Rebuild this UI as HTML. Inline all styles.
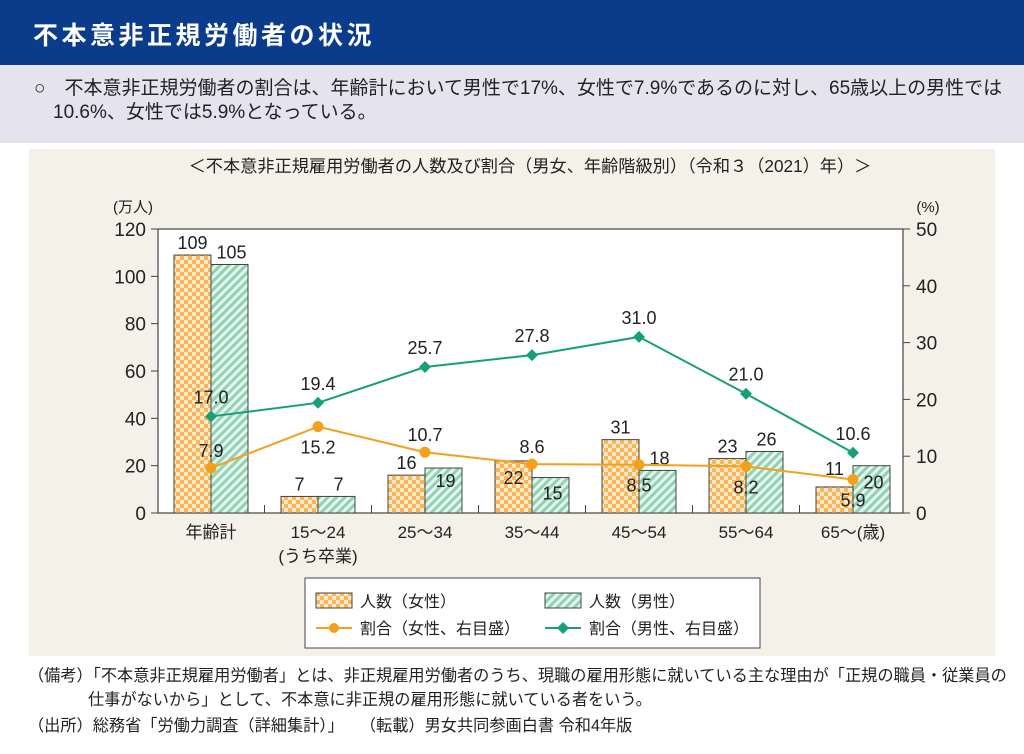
<!DOCTYPE html>
<html><head><meta charset="utf-8">
<style>
body{margin:0;width:1024px;height:754px;overflow:hidden;background:#fff;font-family:"Liberation Sans","Noto Sans CJK JP",sans-serif;position:relative}
.hdr{position:absolute;left:0;top:0;width:1024px;height:65px;background:#0b3c8c;color:#fff;font-size:25px;font-weight:bold;letter-spacing:3.5px}
.hdr span{position:absolute;left:33px;top:16px}
.sum{position:absolute;left:0;top:65px;width:1024px;height:78px;background:#e5e3ee;font-size:19px;color:#222;line-height:23px;white-space:nowrap}
.panel{position:absolute;left:29px;top:149px;width:966px;height:507px;background:#f4f1e8}
.note{position:absolute;left:28px;font-size:16.2px;color:#222;white-space:nowrap}
</style></head><body>
<div class="hdr"><span>不本意非正規労働者の状況</span></div>
<div class="sum">
<div style="position:absolute;left:34px;top:12px">○　不本意非正規労働者の割合は、年齢計において男性で17%、女性で7.9%であるのに対し、65歳以上の男性では</div>
<div style="position:absolute;left:53px;top:36px">10.6%、女性では5.9%となっている。</div>
</div>
<div class="panel"></div>
<svg id="c" width="1024" height="754" style="position:absolute;left:0;top:0">
<defs>
<pattern id="chk" width="8" height="8" patternUnits="userSpaceOnUse"><rect width="8" height="8" fill="#f7b65a"/><rect width="4" height="4" fill="#fde9c8"/><rect x="4" y="4" width="4" height="4" fill="#fde9c8"/></pattern>
<pattern id="dia" width="6" height="6" patternUnits="userSpaceOnUse" patternTransform="rotate(45)"><rect width="6" height="6" fill="#e6f5ee"/><rect width="3" height="6" fill="#8fd2b4"/></pattern>
</defs>
</svg>
<div class="note" style="top:662px">（備考）「不本意非正規雇用労働者」とは、非正規雇用労働者のうち、現職の雇用形態に就いている主な理由が「正規の職員・従業員の</div>
<div class="note" style="top:686px;left:88px">仕事がないから」として、不本意に非正規の雇用形態に就いている者をいう。</div>
<div class="note" style="top:712px">（出所）総務省「労働力調査（詳細集計）」　　（転載）男女共同参画白書 令和4年版</div>
<script>
const categories=["年齢計","15～24","25～34","35～44","45～54","55～64","65～"];
const femaleCount=[109,7,16,22,31,23,11];
const maleCount=[105,7,19,15,18,26,20];
const femaleRate=[7.9,15.2,10.7,8.6,8.5,8.2,5.9];
const maleRate=[17.0,19.4,25.7,27.8,31.0,21.0,10.6];
const leftTicks=[0,20,40,60,80,100,120];
const rightTicks=[0,10,20,30,40,50];
const svg=document.getElementById('c');
const NS='http://www.w3.org/2000/svg';
const X0=158,X1=903,Y0=513,Y1=229;
const yL=v=>Y0-(v/120)*(Y0-Y1);
const yR=v=>Y0-(v/50)*(Y0-Y1);
const step=107;
const xc=i=>211+i*step;
function mk(t,a,p){const e=document.createElementNS(NS,t);for(const k in a)e.setAttribute(k,a[k]);(p||svg).appendChild(e);return e;}
function tx(x,y,s,size,anchor,fill){const e=mk('text',{x:x,y:y,'font-size':size||16,'text-anchor':anchor||'middle',fill:fill||'#222','font-family':'"Liberation Sans","Noto Sans CJK JP",sans-serif'});e.textContent=s;return e;}
let t=tx(530,172,'＜不本意非正規雇用労働者の人数及び割合（男女、年齢階級別）（令和３（2021）年）＞',17.2);


let pa=mk('rect',{x:X0,y:Y1,width:X1-X0,height:Y0-Y1,fill:'#fff',stroke:'#444','stroke-width':1.2});


t=tx(133,212,'(万人)',15);
t=tx(928,212,'(%)',15);
leftTicks.forEach(v=>{const y=yL(v);mk('line',{x1:X0-7,x2:X0,y1:y,y2:y,stroke:'#444'});t=tx(X0-12,y+7,String(v),19,'end');});
rightTicks.forEach(v=>{const y=yR(v);mk('line',{x1:X1,x2:X1+7,y1:y,y2:y,stroke:'#444'});t=tx(X1+13,y+7,String(v),19,'start');});
for(let i=1;i<categories.length;i++){const x=xc(i)-step/2;mk('line',{x1:x,x2:x,y1:Y0-8,y2:Y0,stroke:'#444'});}
const bw=37;
function femDy(i){return (i==3)?23:(i==6?-12:-6);}
function maleDy(i){return (i==2)?19:(i==3)?22:(i==6)?23:-6;}
categories.forEach((c,i)=>{
 const x=xc(i);
 let b=mk('rect',{x:x-bw,y:yL(femaleCount[i]),width:bw,height:Y0-yL(femaleCount[i]),fill:'url(#chk)',stroke:'#444','stroke-width':1});
 
 
 b=mk('rect',{x:x,y:yL(maleCount[i]),width:bw,height:Y0-yL(maleCount[i]),fill:'url(#dia)',stroke:'#444','stroke-width':1});
 
 
});
categories.forEach((c,i)=>{
 const x=xc(i);
 t=tx(x-bw/2,yL(femaleCount[i])+femDy(i),String(femaleCount[i]),18);
 t=tx(x+bw/2+2,yL(maleCount[i])+maleDy(i),String(maleCount[i]),18);
 t=tx(x,Y0+25,c+(i==6?'(歳)':''),17);
});
t=tx(xc(1),Y0+49,'(うち卒業)',17);
function series(vals,color,name,diamond,labelDy){
 const pts=vals.map((v,i)=>[xc(i),yR(v)]);
 let l=mk('polyline',{points:pts.map(p=>p.join(',')).join(' '),fill:'none',stroke:color,'stroke-width':2});
 
 
 pts.forEach((p,i)=>{
  let m=diamond?mk('polygon',{points:`${p[0]},${p[1]-6} ${p[0]+6},${p[1]} ${p[0]},${p[1]+6} ${p[0]-6},${p[1]}`,fill:color}):mk('circle',{cx:p[0],cy:p[1],r:5.5,fill:color});
  
  
  t=tx(p[0],p[1]+labelDy(i),vals[i].toFixed(1),18);
 });
}
series(maleRate,'#16a07a','male-rate',true,i=>-13);
series(femaleRate,'#f5a01a','female-rate',false,i=>(i==1||i>=4)?27:-11);
const lg=mk('rect',{x:305,y:578,width:455,height:70,fill:'#fff',stroke:'#444'});


let r=mk('rect',{x:316,y:593,width:36,height:15,fill:'url(#chk)',stroke:'#444'});
t=tx(360,607,'人数（女性）',16,'start');
r=mk('rect',{x:545,y:593,width:36,height:15,fill:'url(#dia)',stroke:'#444'});
t=tx(589,607,'人数（男性）',16,'start');
mk('line',{x1:316,x2:352,y1:628,y2:628,stroke:'#f5a01a','stroke-width':2});mk('circle',{cx:334,cy:628,r:5,fill:'#f5a01a'});
t=tx(360,634,'割合（女性、右目盛）',16,'start');
mk('line',{x1:545,x2:581,y1:628,y2:628,stroke:'#16a07a','stroke-width':2});mk('polygon',{points:'563,622 569,628 563,634 557,628',fill:'#16a07a'});
t=tx(589,634,'割合（男性、右目盛）',16,'start');
</script>
</body></html>
